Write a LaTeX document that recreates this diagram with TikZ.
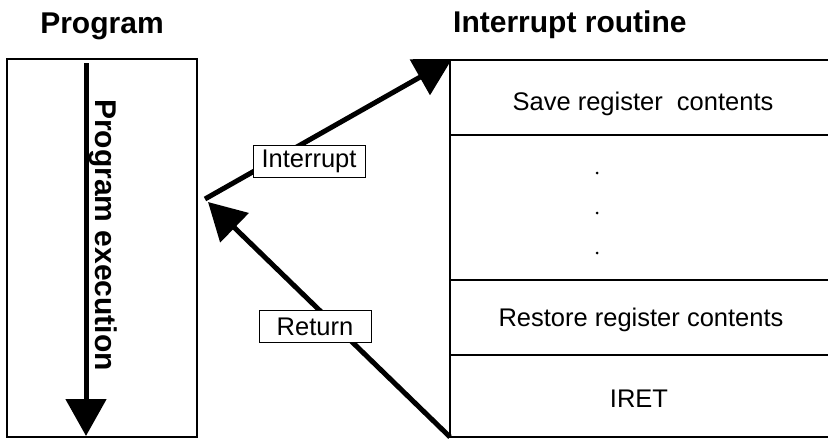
\documentclass[tikz,border=0pt]{standalone}
\usepackage{fontspec}
\setmainfont{Liberation Sans}
\usetikzlibrary{arrows.meta}
\begin{document}
\begin{tikzpicture}[x=1pt,y=-1pt,
  ttl/.style={font=\fontsize{30}{36}\selectfont\bfseries, inner sep=0pt},
  rowtext/.style={font=\fontsize{25.5}{30}\selectfont, inner sep=0pt},
  tagbox/.style={draw, line width=1pt, fill=white, font=\fontsize{25.5}{30}\selectfont, minimum width=112pt, minimum height=32pt, inner sep=0pt},
  boxline/.style={line width=2pt},
  bigarrow/.style={line width=5pt, -{Triangle[length=37pt,width=40pt]}},
  dotmark/.style={circle, fill=black, inner sep=0pt, minimum size=3pt}
]
\useasboundingbox (0,0) rectangle (828,439);

% titles
\node[ttl, anchor=base] (tprog) at (102,33) {Program};
\node[ttl, anchor=base west] (tint) at (453,32) {Interrupt routine};

% left program box
\node[draw, boxline, minimum width=190pt, minimum height=378pt, inner sep=0pt] (prog) at (102,248) {};

% program execution arrow
\coordinate (pa1) at (86,63);
\coordinate (pa2) at (86,436);
\draw[bigarrow] (pa1) -- (pa2);
\node[ttl, rotate=-90, anchor=base] (ptext) at (95.5,235) {Program execution};

% right interrupt routine box (open on the right)
\coordinate (rtl) at (450,60);
\coordinate (rbl) at (450,437);
\draw[boxline] (828,60) -- (rtl) -- (rbl) -- (828,437);
\draw[boxline] (450,135) -- (828,135);
\draw[boxline] (450,280) -- (828,280);
\draw[boxline] (450,355) -- (828,355);

\node[rowtext, anchor=base] (save) at (643,110) {Save register\ \ contents};
\node[dotmark] (d1) at (597,173) {};
\node[dotmark] (d2) at (597,213) {};
\node[dotmark] (d3) at (597,253) {};
\node[rowtext, anchor=base] (restore) at (641,326) {Restore register contents};
\node[rowtext, anchor=base] (iret) at (639,407) {IRET};

% interrupt and return arrows
\coordinate (istart) at (205,199);
\coordinate (itip) at (452,59);
\draw[bigarrow] (istart) -- (itip);
\coordinate (rstart) at (450,437);
\coordinate (rtip) at (208,202);
\draw[bigarrow] (rstart) -- (rtip);

\node[tagbox] (intlabel) at (309,161.5) {Interrupt};
\node[tagbox] (retlabel) at (315,326.5) {Return};
\end{tikzpicture}
\end{document}
